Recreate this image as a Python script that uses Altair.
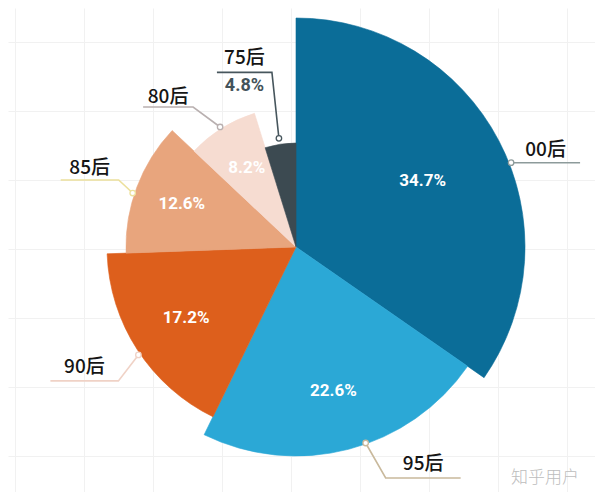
import math
import pandas as pd
import altair as alt

# ---- data ----
cats = ["00后", "95后", "90后", "85后", "80后", "75后"]
values = [34.7, 22.6, 17.2, 12.6, 8.2, 4.8]
pct_labels = ["34.7%", "22.6%", "17.2%", "12.6%", "8.2%", "4.8%"]

# ---- style ----
colors = ["#0b6d98", "#2ba8d6", "#dd5f1c", "#e8a57d", "#f6dcd1", "#3c4a51"]
radius_px = [229, 209, 189, 170, 140, 104]
inner_label_r = [143, 149, 131, 122, 93, 0]
lead_gap = [2, -1, 2, 2, 2, 6]
lead_nudge = [6.2, -5.0, -1.4, -2.3, -0.3, -0.3]
elbow = [(0, 0), (20, 35), (-20, 26), (-14, -13), (-27, -20), (-7, -66)]
hseg = [69, 75, -68, -58, -50, -55]
label_lift = [13, 14, 14, 12, 10, 14]
lead_colors = ["#8d9b9b", "#c9b99c", "#f0d2c6", "#ece09c", "#b9b0b0", "#47565d"]

W, H = 587, 484
CX, CY = 296, 247          # page coordinates of the pie centre
OX, OY = 8, 8              # page margin

df = pd.DataFrame({"cat": cats, "value": values, "pct": pct_labels, "idx": list(range(len(cats)))})
df["r"] = radius_px
df["label_r"] = inner_label_r
df["inner"] = [p if i < len(cats) - 1 else "" for i, p in enumerate(pct_labels)]

total = sum(values)
cum = 0.0
line_rows, pt_rows, lab_rows = [], [], []
for i, (c, v) in enumerate(zip(cats, values)):
    mid = (cum + v / 2) / total * 360.0
    cum += v
    ang = math.radians(mid + lead_nudge[i])
    lr = radius_px[i] + lead_gap[i]
    sx = CX + lr * math.sin(ang)
    sy = CY - lr * math.cos(ang)
    ex, ey = sx + elbow[i][0], sy + elbow[i][1]
    fx = ex + hseg[i]
    for k, (px, py) in enumerate([(sx, sy), (ex, ey), (fx, ey)]):
        line_rows.append({"cat": c, "seq": k, "px": px, "py": py, "lc": lead_colors[i]})
    pt_rows.append({"cat": c, "px": sx, "py": sy, "lc": lead_colors[i]})
    lab_rows.append({"cat": c, "px": (ex + fx) / 2, "py": ey - label_lift[i], "t": c})
    if i == len(cats) - 1:
        lab_rows.append({"cat": c + "_pct", "px": (ex + fx) / 2, "py": ey + 14, "t": pct_labels[i]})

lines_df = pd.DataFrame(line_rows)
pts_df = pd.DataFrame(pt_rows)
labs_df = pd.DataFrame(lab_rows)

xs = alt.Scale(domain=[OX, OX + W], nice=False, zero=False)
ys = alt.Scale(domain=[OY, OY + H], nice=False, zero=False, reverse=True)
ts = alt.Scale(domain=[0, total], range=[0, 2 * math.pi], zero=True, nice=False)
grid_x = [15 + 34.5 * k for k in range(18)]
grid_y = [7 + 34.5 * k for k in range(15)]

lines = alt.Chart(lines_df).mark_line(strokeWidth=1.6).encode(
    x=alt.X("px:Q", scale=xs, axis=alt.Axis(values=grid_x, grid=True, gridColor="#f1f1f1", labels=False,
                                             ticks=False, domain=False, title=None)),
    y=alt.Y("py:Q", scale=ys, axis=alt.Axis(values=grid_y, grid=True, gridColor="#f1f1f1", labels=False,
                                             ticks=False, domain=False, title=None)),
    detail="cat:N",
    order="seq:Q",
    stroke=alt.Stroke("lc:N", scale=None),
)

stacked = alt.Chart(df).transform_stack(
    stack="value", as_=["v0", "v1"], groupby=[], sort=[alt.SortField("idx", order="ascending")]
).transform_calculate(vm="(datum.v0 + datum.v1) / 2")

cscale = alt.Scale(domain=cats, range=colors)
arcs = stacked.mark_arc(strokeWidth=0.6).encode(
    theta=alt.Theta("v0:Q", scale=ts),
    theta2="v1:Q",
    radius=alt.Radius("r:Q", scale=None),
    color=alt.Color("cat:N", scale=cscale, legend=None),
    stroke=alt.Stroke("cat:N", scale=cscale, legend=None),
    x=alt.value(CX - OX),
    y=alt.value(CY - OY),
)

inner = stacked.mark_text(font="Roboto", fontWeight="bold", fontSize=17, color="white").encode(
    theta=alt.Theta("vm:Q", scale=ts),
    radius=alt.Radius("label_r:Q", scale=None),
    text="inner:N",
    x=alt.value(CX - OX),
    y=alt.value(CY - OY),
)

pts = alt.Chart(pts_df).mark_point(shape="circle", filled=True, fill="white", size=30,
                                   strokeWidth=1.3, opacity=1).encode(
    x=alt.X("px:Q", scale=xs),
    y=alt.Y("py:Q", scale=ys),
    stroke=alt.Stroke("lc:N", scale=None),
)

cat_labs = alt.Chart(labs_df[~labs_df["cat"].str.endswith("_pct")]).mark_text(
    font="Noto Sans CJK SC", fontSize=19, fontWeight=500, color="#151515", baseline="middle"
).encode(x=alt.X("px:Q", scale=xs), y=alt.Y("py:Q", scale=ys), text="t:N")

pct_out = alt.Chart(labs_df[labs_df["cat"].str.endswith("_pct")]).mark_text(
    font="Roboto", fontSize=18, fontWeight="bold", color="#44535a", baseline="middle"
).encode(x=alt.X("px:Q", scale=xs), y=alt.Y("py:Q", scale=ys), text="t:N")

wm = alt.Chart(pd.DataFrame({"t": ["知乎用户"]})).mark_text(
    font="Noto Sans CJK SC", fontSize=17, fontWeight=300, color="#bdbdbd", baseline="middle"
).encode(x=alt.value(545 - OX), y=alt.value(478 - OY), text="t:N")

chart = alt.layer(lines, arcs, inner, pts, cat_labs, pct_out, wm).properties(
    width=W, height=H, autosize=alt.AutoSizeParams(type="none"), padding=0,
    background="white",
).configure_view(stroke=None)

chart.save("out.html", embed_options={"renderer": "svg", "actions": False})
